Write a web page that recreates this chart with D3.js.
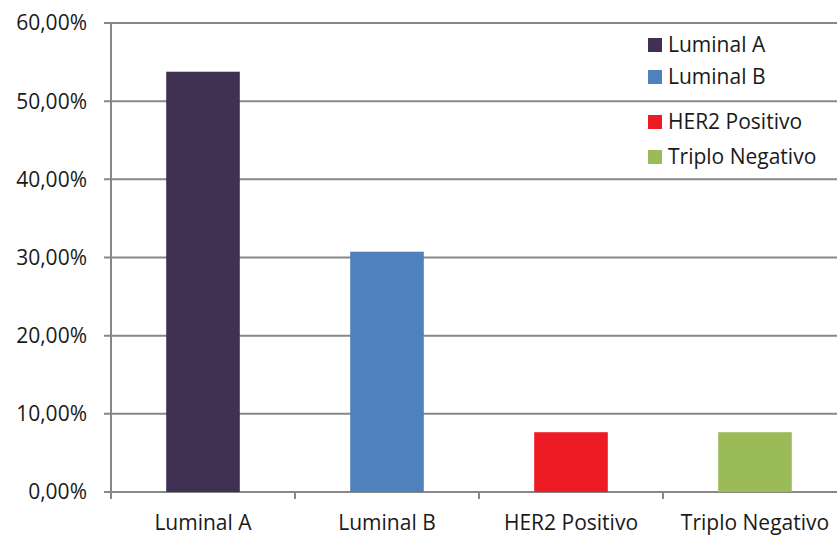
<!DOCTYPE html>
<html><head><meta charset="utf-8">
<script src="https://cdn.jsdelivr.net/npm/d3@7"></script>
<style>body{margin:0;background:#fff;}svg{display:block;font-family:"Open Sans",sans-serif;}</style>
</head><body>
<svg id="c" width="837" height="537"></svg>
<script>
const categories = ["Luminal A","Luminal B","HER2 Positivo","Triplo Negativo"];
const values = [0.5377, 0.3074, 0.0765, 0.0765];
const colors = ["#403152","#4f81bd","#ed1c24","#9bbb59"];
const yTicks = [0,0.1,0.2,0.3,0.4,0.5,0.6];
const fmt = v => (v*100).toFixed(2).replace(".", ",") + "%";

const svg = d3.select("#c");
const x0 = 111, x1 = 847, yTop = 23, yBot = 492;
const x = d3.scaleBand().domain(categories).range([x0, x1]).paddingInner(0.6).paddingOuter(0.3);
const y = d3.scaleLinear().domain([0, 0.6]).range([yBot, yTop]);
const grid = "#878787";
const txt = "#1a1a1a";

svg.append("g").selectAll("line").data(yTicks).join("line")
  .attr("x1", 104).attr("x2", 837).attr("y1", d=>y(d)).attr("y2", d=>y(d))
  .attr("stroke", grid).attr("stroke-width", 2);
svg.append("line").attr("x1", x0).attr("x2", x0).attr("y1", yTop).attr("y2", yBot+7)
  .attr("stroke", grid).attr("stroke-width", 2);
const step = (x1 - x0) / categories.length;
svg.append("g").selectAll("line").data(d3.range(categories.length+1)).join("line")
  .attr("x1", i=>x0+i*step).attr("x2", i=>x0+i*step).attr("y1", yBot).attr("y2", yBot+7)
  .attr("stroke", grid).attr("stroke-width", 2);
svg.append("g").selectAll("text").data(yTicks).join("text")
  .attr("x", 87).attr("y", d=>y(d)).attr("dy", "0.35em").attr("text-anchor", "end")
  .attr("font-size", 21).attr("fill", txt).text(fmt);
svg.append("g").selectAll("rect").data(values).join("rect")
  .attr("x", (d,i)=>x(categories[i])).attr("width", x.bandwidth())
  .attr("y", d=>y(d)).attr("height", d=>yBot - y(d))
  .attr("fill", (d,i)=>colors[i]);
svg.append("g").selectAll("text").data(categories).join("text")
  .attr("x", d=>x(d)+x.bandwidth()/2).attr("y", 530).attr("text-anchor", "middle")
  .attr("font-size", 21).attr("fill", txt).text(d=>d);
const legY = [45, 77, 122, 157];
const leg = svg.append("g").selectAll("g").data(categories).join("g")
  .attr("transform", (d,i)=>`translate(648,${legY[i]})`);
leg.append("rect").attr("x", 0).attr("y", -7).attr("width", 14).attr("height", 14)
  .attr("fill", (d,i)=>colors[i]);
leg.append("text").attr("x", 20).attr("dy", "0.35em").attr("font-size", 21)
  .attr("fill", txt).text(d=>d);
</script>
</body></html>
